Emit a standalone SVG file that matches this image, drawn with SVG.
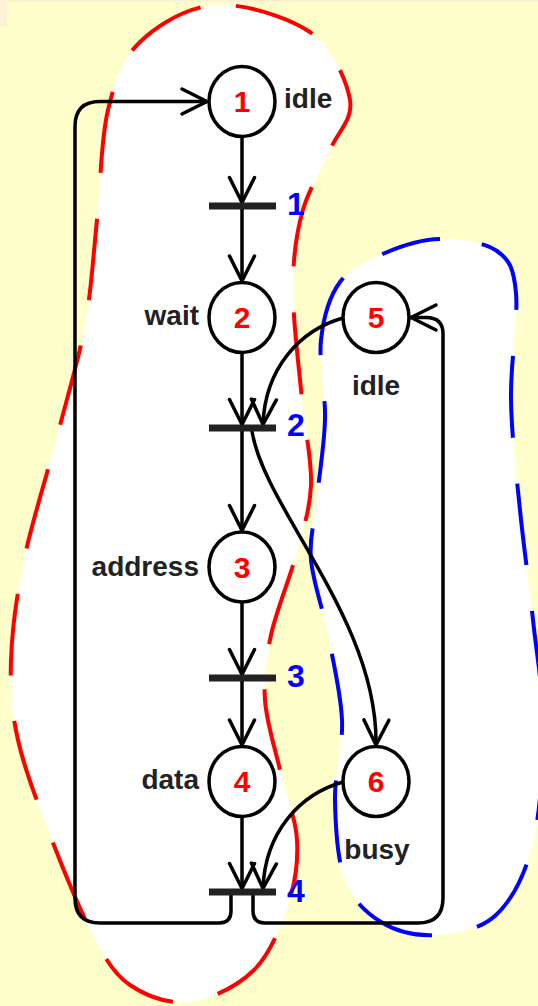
<svg xmlns="http://www.w3.org/2000/svg" width="538" height="1006" viewBox="0 0 538 1006">
  <style>
    .blob { fill: #ffffff; stroke-width: 4; stroke-dasharray: 82 46; fill-rule: nonzero; }
    .place { fill: #ffffff; stroke: #000; stroke-width: 3.5; }
    .bar { fill: #222; }
    .edge { fill: none; stroke: #000; stroke-width: 3.5; stroke-linecap: round; stroke-linejoin: round; }
    .arrow { marker-end: url(#head); }
    .lbl { font-family: "Liberation Sans", Arial, sans-serif; font-weight: bold; font-size: 28px; fill: #222; }
    .num { font-family: "Liberation Sans", Arial, sans-serif; font-weight: bold; font-size: 30px; fill: #ff0000; text-anchor: middle; }
    .tnum { font-family: "Liberation Sans", Arial, sans-serif; font-weight: bold; font-size: 32px; fill: #0000ff; }
  </style>
  <defs>
    <marker id="head" markerUnits="userSpaceOnUse" viewBox="-30 -20 40 40" markerWidth="40" markerHeight="40" refX="0" refY="0" orient="auto" overflow="visible">
      <path d="M-25,-12.5 L0,0 L-25,12.5" fill="none" stroke="#000" stroke-width="3.5" stroke-linecap="round" stroke-linejoin="round"/>
    </marker>
  </defs>

  <!-- background -->
  <rect x="0" y="0" width="538" height="1006" fill="#ffffcc"/>
  <rect x="0" y="0" width="538" height="2" fill="#fff2d4"/>
  <rect x="0" y="0" width="7" height="27" fill="#fff2d4"/>

  <!-- process regions -->
  <g id="regions">
    <path id="region-master" class="blob" stroke="#ff0000" stroke-dashoffset="108"
      d="M216,5 C244.3,3.3 288,17 310,32 C332.3,47.8 346.7,80.3 350,100 C353.3,119.7 338,131.2 330,150
         C322,168.8 308.2,189.7 302,213 C295.8,236.3 293,258.8 293,290 C293,321.2 299,367.5 302,400
         C305,432.5 312,459.2 311,485 C310,510.8 302.7,530 296,555 C289.3,580 276.2,610.8 271,635
         C265.8,659.2 263.5,677.5 265,700 C266.5,722.5 274.7,746.7 280,770 C285.3,793.3 295.7,817.5 297,840
         C298.3,862.5 295.2,883.3 288,905 C280.8,926.7 270.3,953.8 254,970 C237.7,986.2 210.7,999.5 190,1002
         C169.3,1004.5 146.2,996.2 130,985 C113.8,973.8 106.3,960 93,935 C79.7,910 62.5,867.5 50,835
         C37.5,802.5 24.5,769.2 18,740 C11.5,710.8 10,690 11,660 C12,630 16.2,597.8 24,560
         C31.8,522.2 47.8,472.2 58,433 C68.2,393.8 78.5,360.5 85,325 C91.5,289.5 93.2,255.8 97,220
         C100.8,184.2 100.8,139.7 108,110 C115.2,80.3 122,59.5 140,42 C158,24.5 187.7,6.7 216,5 Z"/>
    <path id="region-slave" class="blob" stroke="#0000ff" stroke-dashoffset="86"
      d="M440,239 C458.7,238.7 484.3,242 497,251 C509.7,260 513.7,268.2 516,293 C518.3,317.8 510.3,363.8 511,400
         C511.7,436.2 516.3,473.3 520,510 C523.7,546.7 529.2,584.2 533,620 C536.8,655.8 543,687.8 543,725
         C543,762.2 540.8,811.3 533,843 C525.2,874.7 512.3,899.7 496,915 C479.7,930.3 454.2,933.8 435,935
         C415.8,936.2 396,931.2 381,922 C366,912.8 352.7,900.3 345,880 C337.3,859.7 335.5,826.7 335,800
         C334.5,773.3 343.2,747.5 342,720 C340.8,692.5 333.2,661.7 328,635 C322.8,608.3 313,581.7 311,560
         C309,538.3 313.7,528.3 316,505 C318.3,481.7 324.2,447.5 325,420 C325.8,392.5 318.5,363 321,340
         C323.5,317 329.3,296.5 340,282 C350.7,267.5 368.3,260.2 385,253 C401.7,245.8 421.3,239.3 440,239 Z"/>
  </g>

  <!-- arcs -->
  <g id="connectors">
    <path class="edge arrow" d="M242,136.5 V202.5"/>
    <path class="edge arrow" d="M242,209.5 V281"/>
    <path class="edge arrow" d="M242,352.5 V424.5"/>
    <path class="edge arrow" d="M242,431.5 V530.5"/>
    <path class="edge arrow" d="M242,602 V674.5"/>
    <path class="edge arrow" d="M242,681.5 V745"/>
    <path class="edge arrow" d="M242,816.5 V888.5"/>
    <path class="edge arrow" d="M343,318 C300,330 265,368 263,424.5"/>
    <path class="edge arrow" d="M252,431.5 C265,510 378,620 376,745"/>
    <path class="edge arrow" d="M343,782 C300,794 265,832 263,888.5"/>
    <path class="edge arrow" d="M231,895.5 V911 Q231,923 219,923 H100 Q75,923 75,898 V126.5 Q75,101.5 100,101.5 H207"/>
    <path class="edge arrow" d="M253,895.5 V911 Q253,923 265,923 H418 Q443,923 443,898 V334 Q443,317.5 426,317.5 H411"/>
  </g>

  <!-- places -->
  <g id="p1"><ellipse class="place" cx="242" cy="101.5" rx="33" ry="35"/><text class="num" x="242" y="112">1</text><text class="lbl" x="284" y="108">idle</text></g>
  <g id="p2"><ellipse class="place" cx="242" cy="317.5" rx="33" ry="35"/><text class="num" x="242" y="328">2</text><text class="lbl" x="199" y="325" text-anchor="end">wait</text></g>
  <g id="p3"><ellipse class="place" cx="242" cy="567" rx="33" ry="35"/><text class="num" x="242" y="578">3</text><text class="lbl" x="199" y="576" text-anchor="end">address</text></g>
  <g id="p4"><ellipse class="place" cx="242" cy="781.5" rx="33" ry="35"/><text class="num" x="242" y="792">4</text><text class="lbl" x="199" y="789" text-anchor="end">data</text></g>
  <g id="p5"><ellipse class="place" cx="376" cy="317.5" rx="33" ry="35"/><text class="num" x="376" y="328">5</text><text class="lbl" x="376" y="395" text-anchor="middle">idle</text></g>
  <g id="p6"><ellipse class="place" cx="376" cy="781.5" rx="33" ry="35"/><text class="num" x="376" y="792">6</text><text class="lbl" x="377" y="859" text-anchor="middle">busy</text></g>

  <!-- transitions -->
  <g id="t1"><rect class="bar" x="209" y="202.5" width="67" height="7"/><text class="tnum" x="287" y="215">1</text></g>
  <g id="t2"><rect class="bar" x="209" y="424.5" width="67" height="7"/><text class="tnum" x="287" y="436">2</text></g>
  <g id="t3"><rect class="bar" x="209" y="674.5" width="67" height="7"/><text class="tnum" x="287" y="687">3</text></g>
  <g id="t4"><rect class="bar" x="209" y="888.5" width="67" height="7"/><text class="tnum" x="287" y="902">4</text></g>
</svg>
